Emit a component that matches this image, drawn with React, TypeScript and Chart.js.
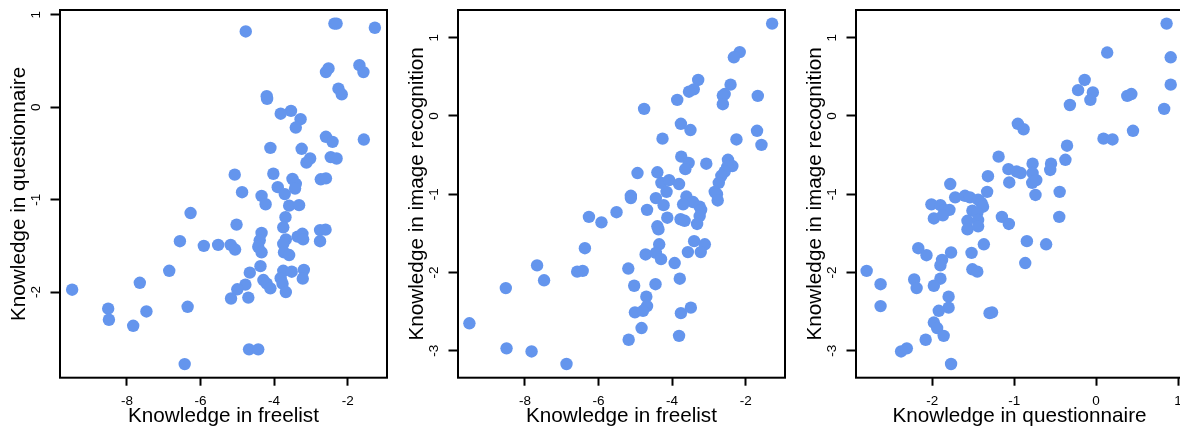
import React, { useEffect, useRef } from 'react';
import { Chart, registerables } from 'chart.js';

Chart.register(...registerables);
Chart.defaults.font.family = "'Liberation Sans', Arial, Helvetica, sans-serif";

// Panel 1: freelist (x) vs questionnaire (y)
const freelist1 = [
  -4.77, -2.36, -2.30, -1.26, -2.59, -2.52, -1.68, -1.57, -2.25, -2.16,
  -4.20, -4.19, -3.54, -3.82, -3.28, -3.41, -2.59, -2.41, -1.56, -4.10,
  -3.25, -3.02, -3.12, -2.46, -2.30, -5.07, -4.02, -3.50, -3.41, -2.73,
  -2.59, -4.87, -3.90, -3.43, -4.34, -3.71,
  -4.23, -3.59, -3.32, -6.27, -3.69, -5.02, -3.75, -4.34, -6.56, -4.39,
  -5.91, -5.52, -5.18, -5.06, -4.43, -4.34, -3.68, -3.75, -3.73, -3.59,
  -3.36, -3.23, -3.21, -2.75, -2.60, -2.75, -6.85, -4.37, -4.66, -3.75,
  -3.52, -3.19, -3.22, -3.82, -3.77, -4.29, -4.20, -4.10, -4.78, -5.00,
  -3.68, -4.70, -5.17, -7.65, -9.49, -8.51, -8.49, -7.47, -7.83, -6.35,
  -4.68, -4.43, -6.43,
];
const questionnaire1 = [
  0.82, 0.905, 0.905, 0.86, 0.38, 0.42, 0.455, 0.38, 0.20, 0.14,
  0.12, 0.09, -0.04, -0.07, -0.13, -0.22, -0.32, -0.375, -0.35, -0.44,
  -0.45, -0.555, -0.60, -0.54, -0.555, -0.73, -0.72, -0.775, -0.83, -0.78,
  -0.77, -0.92, -0.865, -0.88, -0.96, -0.94,
  -1.05, -1.065, -1.06, -1.145, -1.19, -1.27, -1.30, -1.36, -1.45, -1.44,
  -1.50, -1.49, -1.49, -1.54, -1.51, -1.57, -1.43, -1.48, -1.57, -1.60,
  -1.40, -1.37, -1.43, -1.33, -1.325, -1.45, -1.77, -1.72, -1.79, -1.77,
  -1.78, -1.76, -1.855, -1.85, -1.91, -1.87, -1.91, -1.96, -1.92, -1.97,
  -2.00, -2.06, -2.07, -1.90, -1.975, -2.18, -2.30, -2.21, -2.365, -2.16,
  -2.62, -2.62, -2.78,
];

// Panel 2: freelist (x) vs image recognition (y)
const freelist2 = [
  -1.28, -2.16, -2.32, -3.29, -3.41, -3.54, -2.41, -2.57, -2.62, -2.62,
  -1.67, -4.76, -3.86, -3.76, -3.50, -4.26, -2.25, -1.69, -1.57, -3.75,
  -3.55, -3.64, -3.07, -2.48, -2.36, -2.50, -2.57, -2.66, -2.73, -4.94,
  -4.40, -4.29, -4.08, -3.81, -4.15, -2.84, -5.12, -5.12, -4.44, -3.61,
  -3.43, -2.78, -2.76,
  -4.23, -3.70, -3.25, -3.21, -4.68, -5.51, -6.26, -5.92, -4.13, -3.77,
  -3.66, -3.25, -3.32, -4.40, -4.37, -3.40, -3.11, -4.35, -6.37, -4.72,
  -4.44, -4.30, -3.57, -3.22, -3.93, -7.67, -7.48, -6.58, -6.43, -5.19,
  -3.79, -5.03, -4.45, -8.52, -4.70, -4.68, -5.01, -4.79, -3.76, -3.49,
  -4.83, -3.81, -5.18, -9.51, -8.50, -7.82, -6.87,
];
const imageRec2 = [
  1.18, 0.816, 0.75, 0.46, 0.34, 0.31, 0.40, 0.28, 0.26, 0.15,
  0.256, 0.09, 0.205, -0.10, -0.18, -0.29, -0.30, -0.19, -0.37, -0.52,
  -0.60, -0.68, -0.61, -0.56, -0.64, -0.65, -0.71, -0.765, -0.855, -0.73,
  -0.72, -0.855, -0.82, -0.87, -0.97, -0.97, -1.02, -1.05, -1.05, -1.03,
  -1.10, -1.00, -1.08,
  -1.14, -1.13, -1.16, -1.20, -1.20, -1.23, -1.29, -1.36, -1.30, -1.32,
  -1.34, -1.28, -1.38, -1.41, -1.45, -1.60, -1.64, -1.64, -1.69, -1.77,
  -1.75, -1.83, -1.74, -1.74, -1.88, -1.91, -2.10, -1.99, -1.98, -1.95,
  -2.08, -2.17, -2.15, -2.20, -2.31, -2.43, -2.51, -2.49, -2.52, -2.45,
  -2.71, -2.81, -2.86, -2.65, -2.97, -3.01, -3.17,
];

// Panel 3: questionnaire (x) vs image recognition (y)
const questionnaire3 = [
  0.86, 0.135, 0.91, -0.14, -0.22, -0.04, -0.07, 0.91, 0.38, 0.43,
  -0.32, 0.83, -0.955, -0.885, 0.09, 0.20, 0.45, -0.355, -1.19, -0.375,
  -1.07, -0.97, -0.92, -0.775, -0.775, -0.55, -0.56, -1.32, -1.06, -0.78,
  -0.73, -1.78, -1.33, -0.445, -0.74, -1.72, -1.60, -1.54,
  -1.44, -1.40, -1.38, -2.01, -1.90, -1.85, -1.79, -1.98, -1.87, -1.51,
  -1.45, -1.57, -1.44, -1.57, -1.44, -1.15, -1.065, -0.45, -0.845, -0.61,
  -1.37, -2.17, -2.07, -1.77, -1.52, -1.88, -1.90, -0.865, -2.80, -1.51,
  -1.45, -2.63, -2.22, -2.19, -1.90, -1.98, -1.80, -1.80, -1.92, -2.63,
  -1.30, -1.27, -1.98, -1.94, -1.86, -2.08, -2.38, -2.31, -1.77,
];
const imageRec3 = [
  1.18, 0.81, 0.75, 0.46, 0.33, 0.30, 0.205, 0.40, 0.256, 0.28,
  0.14, 0.09, -0.10, -0.17, -0.29, -0.30, -0.19, -0.38, -0.52, -0.56,
  -0.68, -0.71, -0.73, -0.61, -0.73, -0.61, -0.69, -0.77, -0.85, -0.855,
  -0.82, -0.87, -0.97, -0.97, -1.01, -1.04, -1.02, -1.04,
  -1.07, -1.11, -1.16, -1.13, -1.14, -1.20, -1.20, -1.31, -1.27, -1.21,
  -1.24, -1.34, -1.33, -1.45, -1.41, -1.29, -1.38, -1.29, -1.60, -1.64,
  -1.64, -1.69, -1.78, -1.745, -1.75, -1.84, -1.91, -1.88, -1.98, -1.96,
  -1.99, -2.15, -2.09, -2.20, -2.08, -2.17, -2.31, -2.45, -2.49, -2.43,
  -2.52, -2.51, -2.64, -2.71, -2.81, -2.86, -3.01, -2.97, -3.17,
];

// Tick labels
const freelistTicks = [-8, -6, -4, -2];
const questionnaireYTicks = [-2, -1, 0, 1];
const questionnaireXTicks = [-2, -1, 0, 1];
const imageTicks = [-3, -2, -1, 0, 1];

// Axis ranges (R-style 4% extension of the data range)
const freelistRange = [-9.82, -0.93];
const questionnaireRange = [-2.927, 1.052];
const questionnaireXRange = [-2.93, 1.06];
const imageRange = [-3.345, 1.354];

const POINT_COLOR = '#6495ED';
const CANVAS_W = 394;
const CANVAS_H = 432;

const boxPlugin = {
  id: 'plotBox',
  afterDraw(chart: any) {
    const { ctx, chartArea: a } = chart;
    ctx.save();
    ctx.lineWidth = 2;
    ctx.strokeStyle = '#000';
    ctx.strokeRect(a.left, a.top, a.right - a.left, a.bottom - a.top);
    ctx.restore();
  },
};

type Panel = {
  xs: number[];
  ys: number[];
  xTicks: number[];
  yTicks: number[];
  xRange: number[];
  yRange: number[];
  xTitle: string;
  yTitle: string;
  left: number;
};

const panels: Panel[] = [
  { xs: freelist1, ys: questionnaire1, xTicks: freelistTicks, yTicks: questionnaireYTicks, xRange: freelistRange, yRange: questionnaireRange, xTitle: 'Knowledge in freelist', yTitle: 'Knowledge in questionnaire', left: 0 },
  { xs: freelist2, ys: imageRec2, xTicks: freelistTicks, yTicks: imageTicks, xRange: freelistRange, yRange: imageRange, xTitle: 'Knowledge in freelist', yTitle: 'Knowledge in image recognition', left: 398 },
  { xs: questionnaire3, ys: imageRec3, xTicks: questionnaireXTicks, yTicks: imageTicks, xRange: questionnaireXRange, yRange: imageRange, xTitle: 'Knowledge in questionnaire', yTitle: 'Knowledge in image recognition', left: 796 },
];

function makeConfig(p: Panel): any {
  const gridOpts = (len: number) => ({
    display: true,
    drawOnChartArea: false,
    drawTicks: true,
    tickLength: len,
    tickColor: '#000',
    tickWidth: 2,
  });
  return {
    type: 'scatter',
    data: {
      datasets: [
        {
          data: p.xs.map((v, i) => ({ x: v, y: p.ys[i] })),
          backgroundColor: POINT_COLOR,
          borderColor: POINT_COLOR,
          borderWidth: 0,
          pointRadius: 6.2,
          pointHoverRadius: 6.2,
          clip: false,
        },
      ],
    },
    options: {
      animation: false,
      responsive: false,
      maintainAspectRatio: false,
      devicePixelRatio: 1,
      events: [],
      layout: { padding: { top: 10, right: 7, bottom: 0, left: 0 } },
      plugins: { legend: { display: false }, tooltip: { enabled: false } },
      scales: {
        x: {
          type: 'linear',
          position: 'bottom',
          min: p.xRange[0],
          max: p.xRange[1],
          afterBuildTicks: (s: any) => {
            s.ticks = p.xTicks.map((v) => ({ value: v }));
          },
          afterFit: (s: any) => {
            s.height = 54.3;
            s.paddingLeft = 0;
            s.paddingRight = 0;
          },
          grid: gridOpts(8),
          border: { display: false },
          ticks: {
            autoSkip: false,
            maxRotation: 0,
            minRotation: 0,
            padding: 7.2,
            color: '#000',
            font: { size: 13.5 },
            callback: (v: any) => String(v),
          },
          title: {
            display: true,
            text: p.xTitle,
            color: '#000',
            font: { size: 20.7 },
            padding: { top: 0, bottom: 3.5 },
          },
        },
        y: {
          type: 'linear',
          position: 'left',
          min: p.yRange[0],
          max: p.yRange[1],
          afterBuildTicks: (s: any) => {
            s.ticks = p.yTicks.map((v) => ({ value: v }));
          },
          afterFit: (s: any) => {
            s.width = 60;
            s.paddingTop = 0;
            s.paddingBottom = 0;
          },
          grid: gridOpts(9.5),
          border: { display: false },
          ticks: {
            autoSkip: false,
            minRotation: 90,
            maxRotation: 90,
            crossAlign: 'center',
            padding: 7.8,
            color: '#000',
            font: { size: 13.5 },
            callback: (v: any) => String(v),
          },
          title: {
            display: true,
            text: p.yTitle,
            color: '#000',
            font: { size: 20.7 },
            padding: { top: 6.4, bottom: 0 },
          },
        },
      },
    },
    plugins: [boxPlugin],
  };
}

function PanelChart({ panel }: { panel: Panel }) {
  const ref = useRef<HTMLCanvasElement | null>(null);
  useEffect(() => {
    if (!ref.current) return;
    const chart = new Chart(ref.current, makeConfig(panel));
    return () => chart.destroy();
  }, [panel]);
  return (
    <canvas
      ref={ref}
      width={CANVAS_W}
      height={CANVAS_H}
      style={{ position: 'absolute', left: panel.left, top: 0, width: CANVAS_W, height: CANVAS_H, display: 'block' }}
    />
  );
}

export default function App() {
  return (
    <div
      style={{
        position: 'absolute',
        left: 0,
        top: 0,
        width: 1180,
        height: 432,
        overflow: 'hidden',
        background: '#fff',
      }}
    >
      {panels.map((p, i) => (
        <PanelChart key={i} panel={p} />
      ))}
    </div>
  );
}
